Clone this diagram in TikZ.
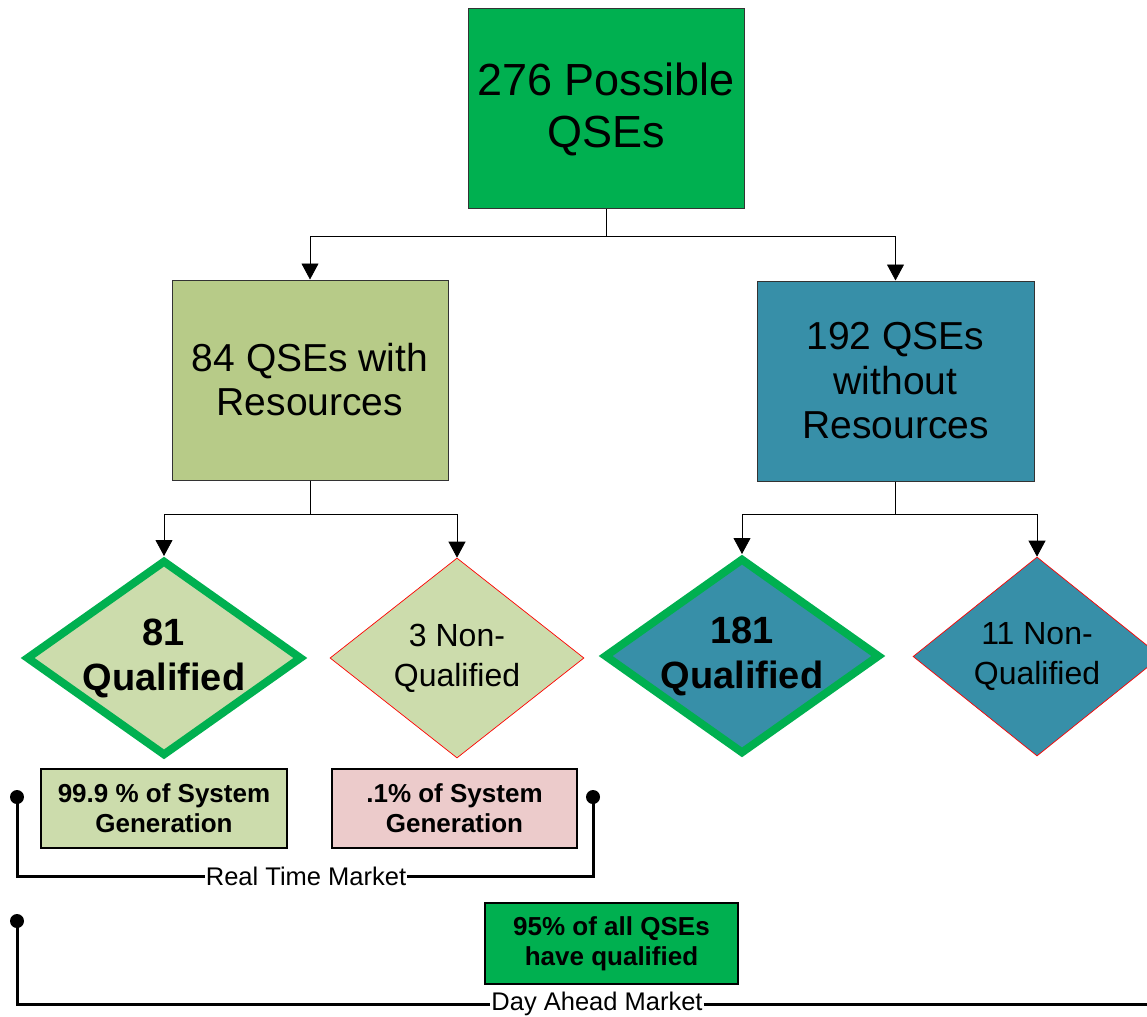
\documentclass[tikz,border=0pt]{standalone}
\usepackage{fontspec}
\setmainfont{Liberation Sans}
\usetikzlibrary{shapes.geometric,arrows.meta}
\definecolor{qgreen}{HTML}{00B050}
\definecolor{olivebox}{HTML}{B7CB88}
\definecolor{palegreen}{HTML}{CCDCAC}
\definecolor{tealbox}{HTML}{378FA8}
\definecolor{pinkbox}{HTML}{ECCBCB}
\begin{document}
\begin{tikzpicture}[x=1pt,y=-1pt,
  bigbox/.style={draw=black!80, line width=1pt, minimum width=276pt, minimum height=200pt, align=center, inner sep=0pt},
  dqual/.style={diamond, draw=qgreen, line width=8pt, aspect=1.4, minimum width=276pt, minimum height=196pt, inner sep=0pt, align=center, font=\bfseries\fontsize{38}{45}\selectfont},
  dnon/.style={diamond, draw=red, line width=0.7pt, aspect=1.27, minimum width=254pt, minimum height=200pt, inner sep=0pt, align=center, font=\fontsize{32}{40}\selectfont},
  statbox/.style={draw=black, line width=1.5pt, minimum width=246pt, minimum height=79pt, inner sep=0pt, align=center, font=\bfseries\fontsize{26}{30}\selectfont},
  conn/.style={draw=black, line width=0.8pt, -{Triangle[width=17pt,length=16pt]}},
  mline/.style={draw=black, line width=3pt},
  bigdot/.style={circle, fill=black, inner sep=0pt, minimum size=14pt},
  mlabel/.style={fill=white, inner sep=1pt, font=\fontsize{25.5}{28}\selectfont}
]
\useasboundingbox (0,0) rectangle (1147,1016);

% top level
\node[bigbox, fill=qgreen, font=\fontsize{45}{52}\selectfont] (top) at (606,109) {276 Possible\\QSEs};

% second level
\node[bigbox, fill=olivebox, font=\fontsize{39}{44}\selectfont] (lb) at (310,380) {84 QSEs with\\Resources};
\node[bigbox, fill=tealbox, minimum width=277pt, font=\fontsize{39}{44.5}\selectfont] (rb) at (895.5,381) {192 QSEs\\without\\Resources};

% diamonds
\node[dqual, fill=palegreen] (d81) at (164,658) {81\\Qualified};
\node[dnon, fill=palegreen] (d3) at (457,658) {3 Non-\\Qualified};
\node[dqual, fill=tealbox] (d181) at (742,656) {181\\Qualified};
\node[dnon, fill=tealbox, minimum width=248pt, minimum height=199pt] (d11) at (1037,656.5) {11 Non-\\Qualified};

% connectors
\draw[conn] (top.south) -- ++(0,27) -| (lb.north);
\draw[conn] (top.south) -- ++(0,27) -| (rb.north);
\draw[conn] (lb.south) -- ++(0,34) -| (d81.north);
\draw[conn] (lb.south) -- ++(0,34) -| (d3.north);
\draw[conn] (rb.south) -- ++(0,33) -| (d181.north);
\draw[conn] (rb.south) -- ++(0,33) -| (d11.north);

% stats boxes
\node[statbox, fill=palegreen] (s1) at (164,808.5) {99.9 \% of System\\Generation};
\node[statbox, fill=pinkbox, minimum width=245pt] (s2) at (454.5,808.5) {.1\% of System\\Generation};
\node[statbox, fill=qgreen, minimum width=253pt, minimum height=81pt] (s3) at (611.5,943.5) {95\% of all QSEs\\have qualified};

% Real Time Market bracket
\node[bigdot] (dot1) at (17,797) {};
\node[bigdot] (dot2) at (593,797) {};
\node[mlabel] (rtm) at (306,876.5) {Real Time Market};
\draw[mline] (dot1.center) |- (rtm.west);
\draw[mline] (rtm.east) -| (dot2.center);

% Day Ahead Market bracket
\node[bigdot] (dot3) at (17,921) {};
\node[mlabel] (dam) at (597,1004) {Day Ahead Market};
\coordinate (damend) at (1152,1004);
\draw[mline] (dot3.center) |- (dam.west);
\draw[mline] (dam.east) -- (damend);
\end{tikzpicture}
\end{document}
